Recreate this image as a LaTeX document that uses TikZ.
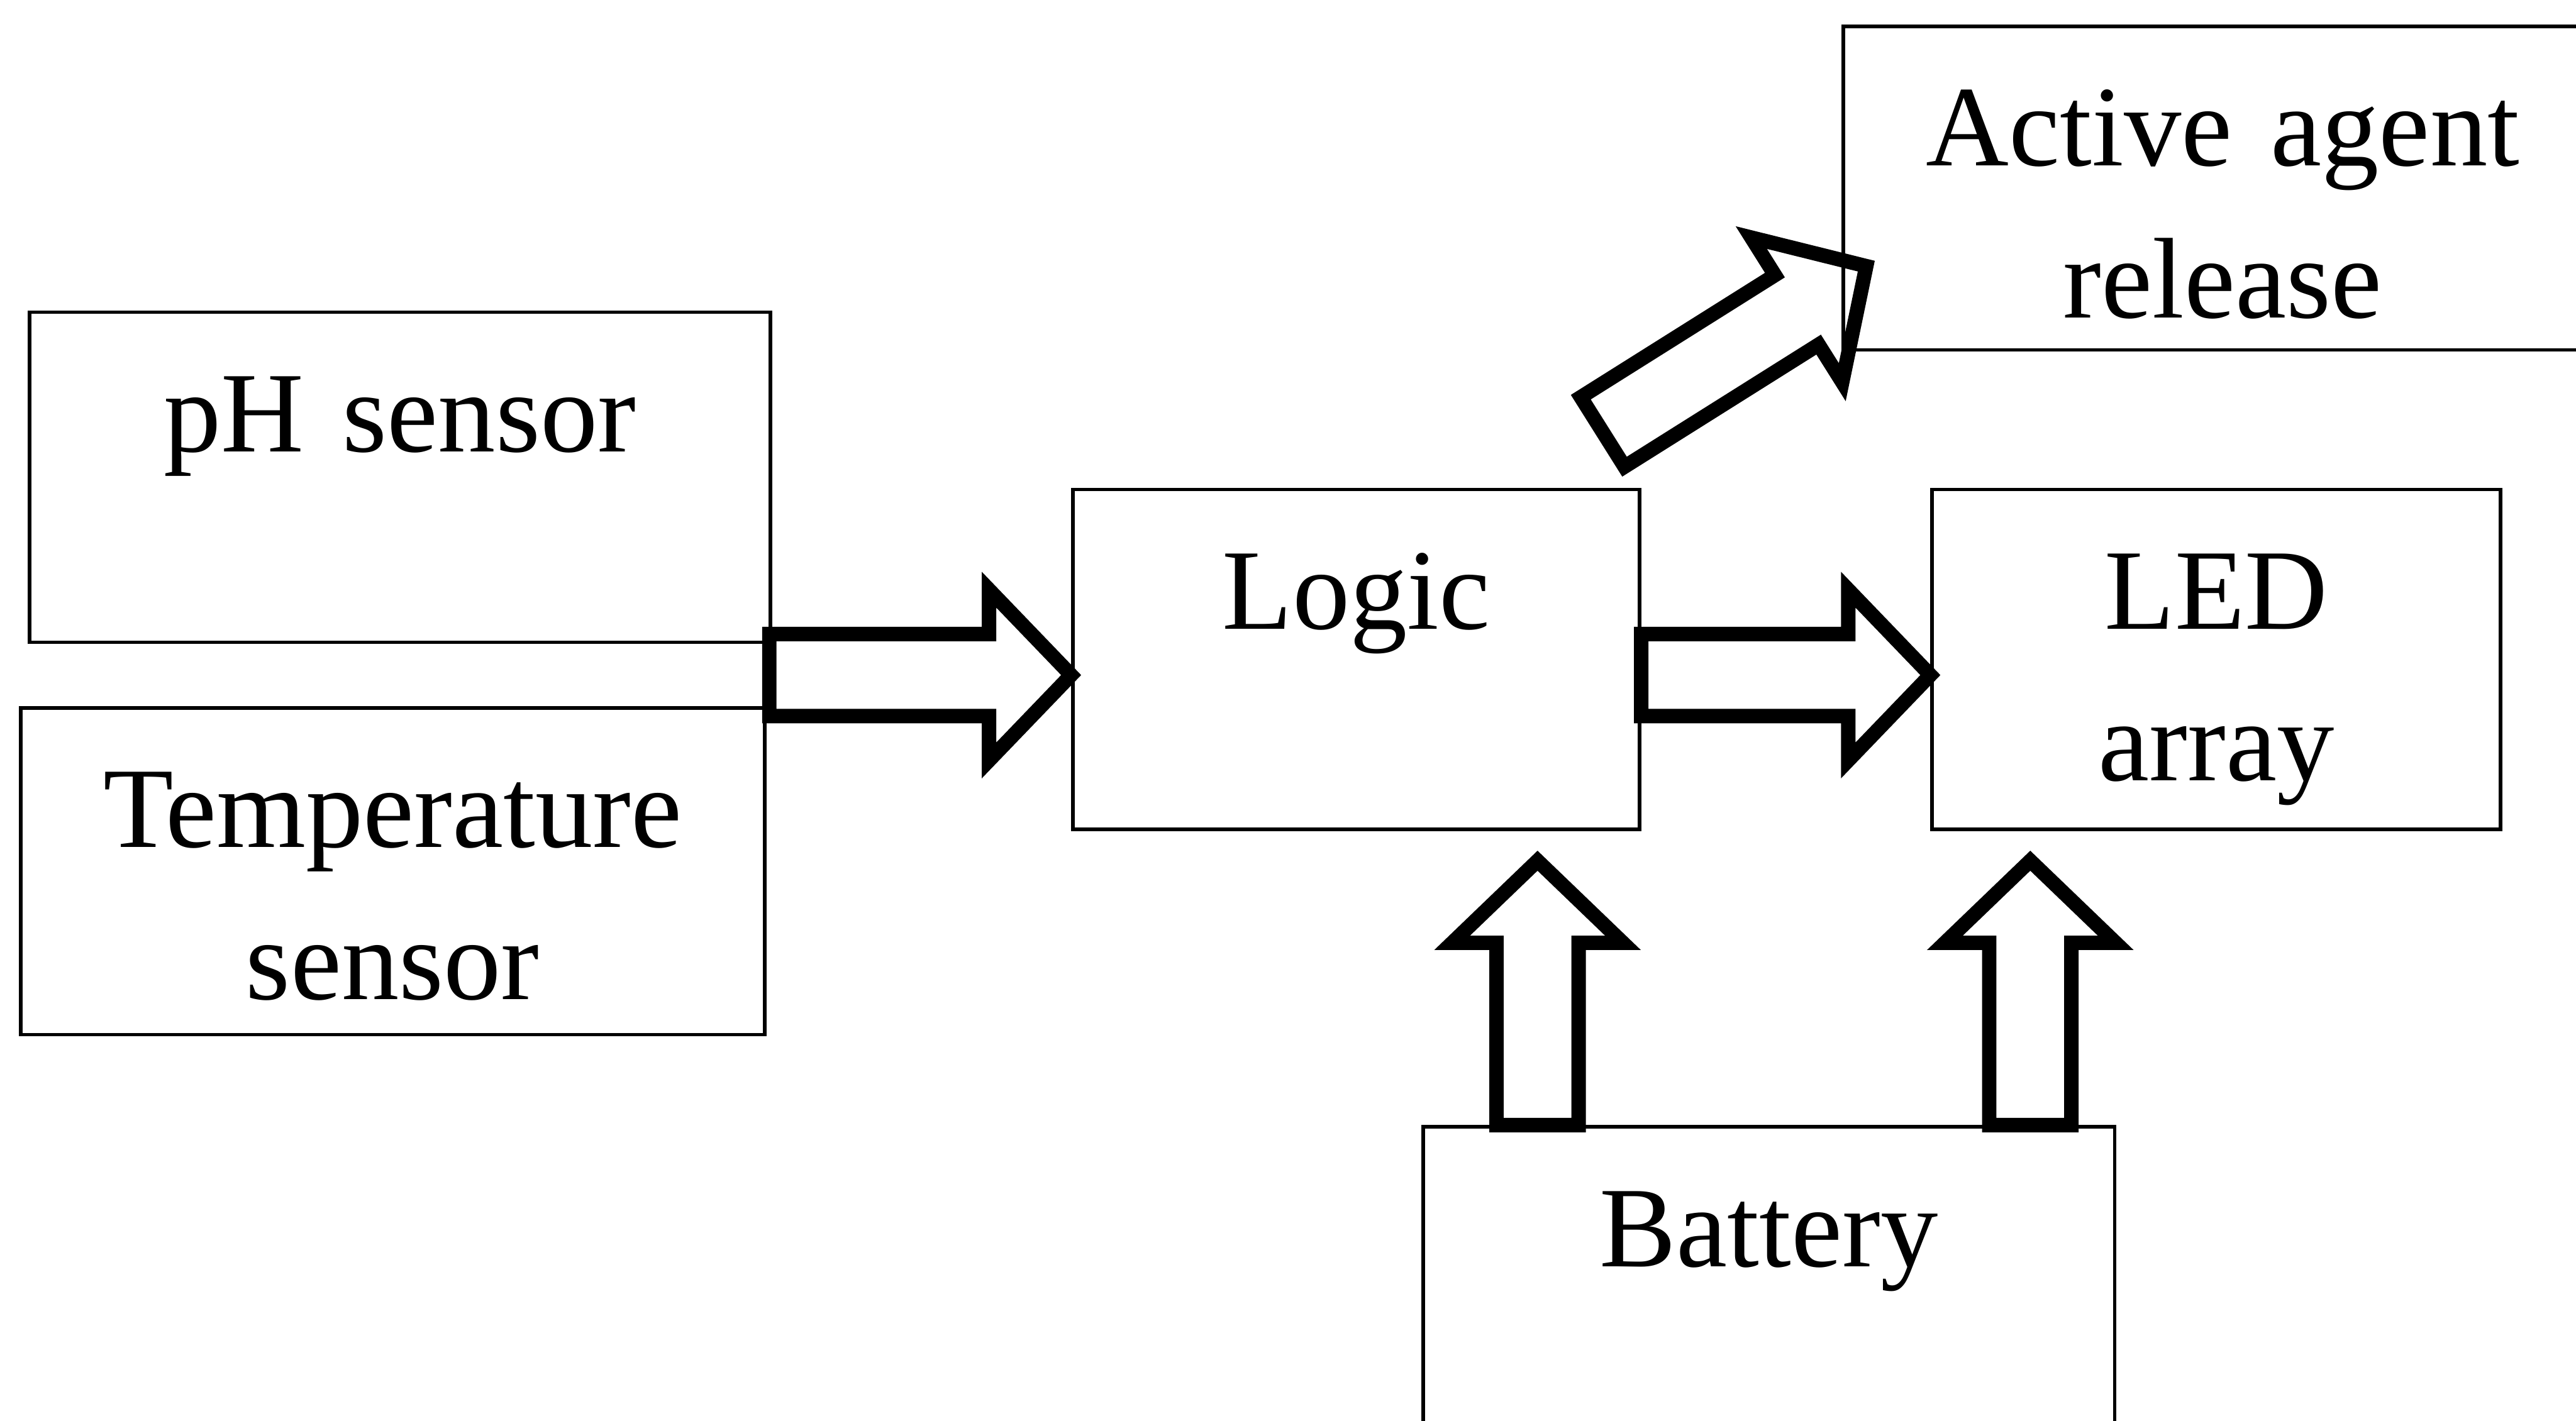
\documentclass[tikz,border=0pt]{standalone}
\usepackage{fontspec}
\setmainfont{Liberation Serif}
\usetikzlibrary{calc}

\tikzset{
  blk/.style={draw, line width=1.2pt, inner sep=0pt, align=center, text height=1.7cm,
    font=\fontsize{39.8pt}{52.6pt}\selectfont},
  fatline/.style={draw, line width=5pt, line join=miter}
}
% hollow block arrow, #1 is the tail and #2 the tip
\newcommand{\fatarrow}[2]{%
  \coordinate (neck) at ($(#2)!1cm!(#1)$);
  \draw[fatline] ($(#1)!0.5cm!90:(#2)$) -- ($(neck)!0.5cm!90:(#2)$) -- ($(neck)!1.04cm!90:(#2)$)
    -- (#2) -- ($(neck)!1.04cm!-90:(#2)$) -- ($(neck)!0.5cm!-90:(#2)$) -- ($(#1)!0.5cm!-90:(#2)$) -- cycle;
}

\begin{document}
\begin{tikzpicture}[x=0.02cm, y=-0.02cm]
\useasboundingbox (0,0) rectangle (1568,865);
\clip (0,0) rectangle (1568,865);
        % blocks
        \node[blk, text width=9.02cm, text depth=2.32cm] (ph) at (243.5,290.5) {pH sensor};
        \node[blk, text width=9.06cm, text depth=2.28cm] (temp) at (239,530.5) {Temperature\\sensor};
        \node[blk, text width=6.9cm, text depth=2.44cm] (logic) at (825.5,401.5) {Logic};
        \node[blk, text width=6.92cm, text depth=2.44cm] (led) at (1349,401.5) {LED\\array};
        \node[blk, text width=9.24cm, text depth=2.24cm] (agent) at (1353,114.5) {Active agent\\release};
        \node[blk, text width=8.42cm, text depth=4.3cm] (bat) at (1076.75,836) {Battery};
        % ends of the arrows
        \coordinate (sens) at ($(ph.south east)!0.5!(temp.north east)$);
        \coordinate (logicin) at (logic.west |- sens);
        \coordinate (logicout) at (logic.east |- sens);
        \coordinate (ledin) at (led.west |- sens);
        \coordinate (batl) at ($(bat.north west)!0.167!(bat.north east)$);
        \coordinate (batr) at ($(bat.north west)!0.876!(bat.north east)$);
        \coordinate (logicbat) at ($(logic.south -| batl)+(0,18)$);
        \coordinate (ledbat) at ($(led.south -| batr)+(0,18)$);
        \coordinate (logicup) at ($(logic.north east)+(-23.5,-34)$);
        \coordinate (agentin) at ($(agent.south west)+(15,-52)$);
        \foreach \from/\to in {sens/logicin,logicout/ledin,batl/logicbat,batr/ledbat,logicup/agentin} {
                \fatarrow{\from}{\to}
        }
\end{tikzpicture}
\end{document}
